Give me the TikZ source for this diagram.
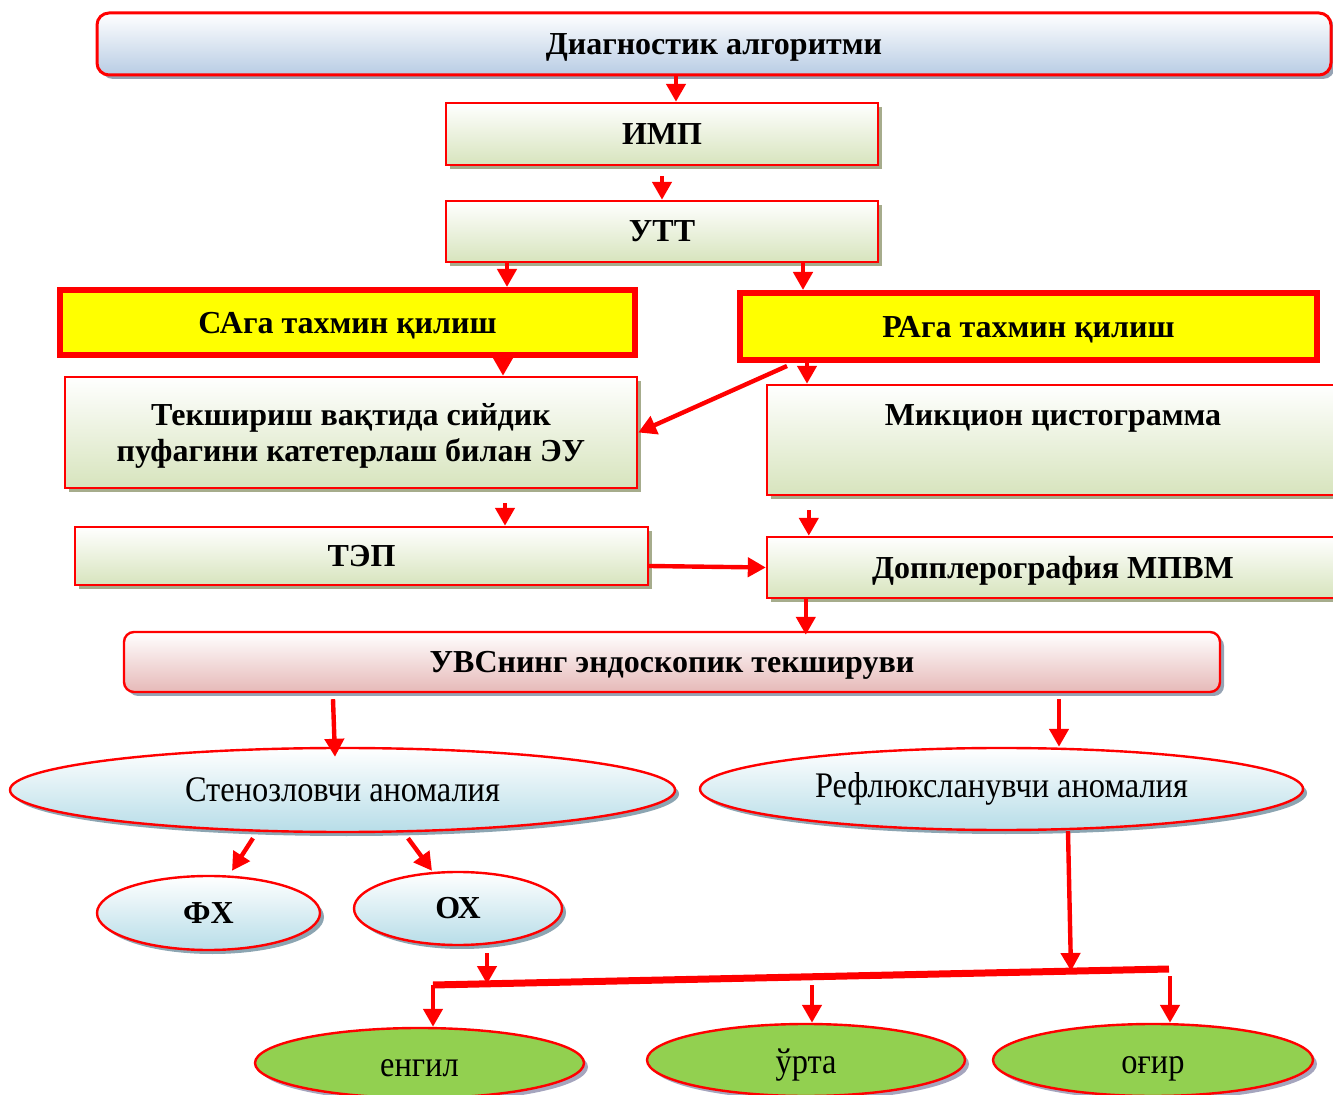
\documentclass[tikz,border=0pt]{standalone}
\usepackage{fontspec}
\setmainfont{Liberation Serif}
\newfontfamily\ovalfont[FakeStretch=0.9]{Liberation Serif}
\usetikzlibrary{arrows.meta,shapes.geometric,shadows}
\definecolor{linered}{RGB}{255,0,0}
\definecolor{guessyellow}{RGB}{255,255,0}
\definecolor{titleblue}{RGB}{184,204,228}
\definecolor{boxgreen}{RGB}{215,228,189}
\definecolor{boxpink}{RGB}{230,185,184}
\definecolor{ovalblue}{RGB}{183,221,232}
\definecolor{leafgreen}{RGB}{146,208,80}
\definecolor{shadowolive}{RGB}{166,172,140}
\definecolor{shadowgrey}{RGB}{150,163,180}
\definecolor{shadowblue}{RGB}{140,165,178}
\definecolor{shadowlilac}{RGB}{165,165,190}
\tikzstyle{box}=[rectangle, draw=linered, line width=1.2pt, inner sep=0pt, align=center, text depth=0pt, font=\fontsize{16}{18}\selectfont\bfseries]
\tikzstyle{stepbox}=[box, top color=white, bottom color=boxgreen, general shadow={fill=shadowolive, shadow xshift=2pt, shadow yshift=-2pt}]
\tikzstyle{headbox}=[box, rounded corners=6pt, line width=1.5pt, top color=white, bottom color=titleblue, general shadow={fill=shadowgrey, shadow xshift=2pt, shadow yshift=-2pt}]
\tikzstyle{endobox}=[box, rounded corners=5pt, top color=white, bottom color=boxpink, general shadow={fill=shadowgrey, shadow xshift=2pt, shadow yshift=-2pt}]
\tikzstyle{guessbox}=[box, fill=guessyellow, line width=3pt]
\tikzstyle{oval}=[ellipse, draw=linered, line width=1.2pt, inner sep=0pt, top color=white, bottom color=ovalblue, general shadow={fill=shadowblue, shadow xshift=2pt, shadow yshift=-2pt}, font=\ovalfont\fontsize{18}{20}\selectfont]
\tikzstyle{leaf}=[ellipse, draw=linered, line width=1.2pt, inner sep=0pt, text height=13pt, text depth=0pt, fill=leafgreen, general shadow={fill=shadowlilac, shadow xshift=2pt, shadow yshift=-2pt}, font=\ovalfont\fontsize{18}{20}\selectfont]
\tikzstyle{flow}=[draw=linered, line width=2.2pt, -{Triangle[width=9.5pt,length=9pt]}]
\tikzstyle{bar}=[draw=linered, line width=3.5pt]

\begin{document}
\begin{tikzpicture}[x=0.5pt, y=-0.5pt]
    \useasboundingbox (0,0) rectangle (1333,1095);

    % boxes
    \node[headbox, minimum width=617pt, minimum height=31pt] (title) at (714,44) {Диагностик алгоритми};
    \node[stepbox, minimum width=216pt, minimum height=31pt] (imp) at (662,134) {ИМП};
    \node[stepbox, minimum width=216pt, minimum height=30.5pt] (utt) at (662,231.5) {УТТ};
    \node[guessbox, minimum width=287.5pt, minimum height=32.5pt] (sa) at (347.5,322.5) {САга тахмин қилиш};
    \node[guessbox, minimum width=288.5pt, minimum height=33.5pt] (ra) at (1028.5,326.5) {РАга тахмин қилиш};
    \node[stepbox, minimum width=286pt, minimum height=55.5pt] (tek) at (351,432.5) {Текшириш вақтида сийдик\\пуфагини катетерлаш билан ЭУ};
    \node[stepbox, minimum width=286pt, text height=20.5pt, text depth=34.5pt] (mik) at (1053,440) {Микцион цистограмма};
    \node[stepbox, minimum width=286.5pt, minimum height=29pt] (tep) at (361.5,556) {ТЭП};
    \node[stepbox, minimum width=286pt, minimum height=30.5pt] (dop) at (1053,567.5) {Допплерография МПВМ};
    \node[endobox, minimum width=548pt, minimum height=30pt] (uvs) at (672,662) {УВСнинг эндоскопик текшируви};

    % ovals
    \node[oval, minimum width=332.5pt, minimum height=42pt] (sten) at (342.5,790) {Стенозловчи аномалия};
    \node[oval, minimum width=301.5pt, minimum height=41pt] (ref) at (1001.5,789) {Рефлюксланувчи аномалия};
    \node[oval, minimum width=111.5pt, minimum height=37pt, font=\fontsize{16}{18}\selectfont\bfseries] (fx) at (208.5,913) {ФХ};
    \node[oval, minimum width=104pt, minimum height=36.5pt, font=\fontsize{16}{18}\selectfont\bfseries] (okh) at (458,908.5) {ОХ};
    \node[leaf, minimum width=164.5pt, minimum height=35pt] (eng) at (419.5,1063) {енгил};
    \node[leaf, minimum width=159pt, minimum height=36pt] (urt) at (806,1060) {ўрта};
    \node[leaf, minimum width=160pt, minimum height=36pt] (ogr) at (1153,1060) {оғир};

    \coordinate (barL) at (433,985);
    \coordinate (barR) at (1169,969);
    \coordinate (okhhit) at (487,984);
    \coordinate (refhit) at (1071,971);
    \coordinate (urtfrom) at (812,985);
    \coordinate (ogrfrom) at (1170,976);

    % arrows
    \draw[flow] ([xshift=7pt]imp.north |- title.south) -- ([xshift=7pt]imp.north);
    \draw[flow] ([yshift=-5pt]imp.south) -- (utt.north);
    \draw[flow] ([xshift=-77.5pt]utt.south) -- ([xshift=-77.5pt]utt.south |- sa.north);
    \draw[flow] ([xshift=70.5pt]utt.south) -- ([xshift=70.5pt]utt.south |- ra.north);
    \draw[flow] ([xshift=77.75pt]sa.south) -- ([xshift=77.75pt]sa.south |- tek.north);
    \draw[flow] ([xshift=25pt,yshift=-1.5pt]ra.south west) -- (tek.east);
    \draw[flow] ([xshift=35pt]ra.south west) -- ([xshift=35pt]ra.south west |- mik.north);
    \draw[flow] ([xshift=77pt,yshift=-7pt]tek.south) -- ([xshift=77pt]tek.south |- tep.north);
    \draw[flow] ([xshift=21.5pt,yshift=-7pt]mik.south west) -- ([xshift=21.5pt]mik.south west |- dop.north);
    \draw[flow] ([yshift=-5pt]tep.east) -- (dop.west);
    \draw[flow] ([xshift=20pt]dop.south west) -- ([xshift=20pt,yshift=-2pt]dop.south west |- uvs.north);
    \draw[flow] ([xshift=-169.5pt,yshift=-3pt]uvs.south) -- ([xshift=-3.75pt,yshift=-5pt]sten.north);
    \draw[flow] ([xshift=193.5pt,yshift=-3pt]uvs.south) -- ([xshift=193.5pt]uvs.south |- ref.north);
    \draw[flow] ([xshift=-44.75pt,yshift=-2.5pt]sten.south) -- ([xshift=11.75pt,yshift=2pt]fx.north);
    \draw[flow] ([xshift=32.75pt,yshift=-2.5pt]sten.south) -- ([xshift=-13pt]okh.north);
    \draw[flow] ([xshift=14.5pt,yshift=-3.5pt]okh.south) -- (okhhit);
    \draw[flow] ([xshift=33.25pt]ref.south) -- (refhit);
    \draw[bar] (barL) -- (barR);
    \draw[flow] (barL) -- (barL |- eng.north);
    \draw[flow] (urtfrom) -- (urtfrom |- urt.north);
    \draw[flow] (ogrfrom) -- (ogrfrom |- ogr.north);
\end{tikzpicture}
\end{document}
